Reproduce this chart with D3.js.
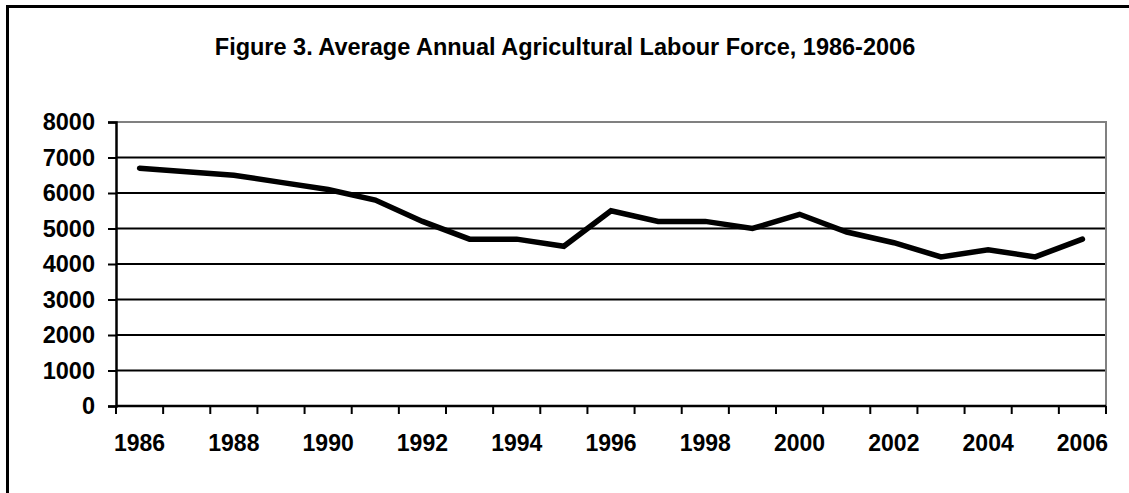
<!DOCTYPE html>
<html>
<head>
<meta charset="utf-8">
<script src="https://cdn.jsdelivr.net/npm/d3@7"></script>
<style>
  html, body { margin: 0; padding: 0; background: #fff; }
  svg { display: block; }
  text { font-family: "Liberation Sans", Arial, sans-serif; font-weight: bold; fill: #000; }
</style>
</head>
<body>
<svg id="chart" width="1129" height="493"></svg>
<script>
// Agricultural labour force by year
const years = ["1986","1987","1988","1989","1990","1991","1992","1993","1994","1995","1996",
               "1997","1998","1999","2000","2001","2002","2003","2004","2005","2006"];
const labourForce = [6700, 6600, 6500, 6300, 6100, 5800, 5200, 4700, 4700, 4500, 5500,
                     5200, 5200, 5000, 5400, 4900, 4600, 4200, 4400, 4200, 4700];
const yTicks = [0, 1000, 2000, 3000, 4000, 5000, 6000, 7000, 8000];
const xLabels = ["1986","1988","1990","1992","1994","1996","1998","2000","2002","2004","2006"];
const title = "Figure 3. Average Annual Agricultural Labour Force, 1986-2006";

const svg = d3.select("#chart");
const plot = { left: 116, right: 1106, top: 122, bottom: 406 };

const x = d3.scaleBand().domain(years).range([plot.left, plot.right]).padding(0);
const y = d3.scaleLinear().domain([0, 8000]).range([plot.bottom, plot.top]);

// outer frame (runs off the right and bottom edges)
svg.append("rect")
  .attr("x", 7.5).attr("y", 6.5)
  .attr("width", 1300).attr("height", 700)
  .attr("fill", "none").attr("stroke", "#000").attr("stroke-width", 3);

// title
svg.append("text")
  .attr("x", 565).attr("y", 55)
  .attr("text-anchor", "middle")
  .style("font-size", "23.5px")
  .text(title);

// horizontal gridlines
svg.append("g").selectAll("line")
  .data(yTicks.filter(d => d > 0 && d < 8000))
  .join("line")
  .attr("x1", plot.left).attr("x2", plot.right)
  .attr("y1", d => y(d)).attr("y2", d => y(d))
  .attr("stroke", "#000").attr("stroke-width", 2);

// plot area border (top and right)
svg.append("path")
  .attr("d", `M${plot.left},${y(8000)}H${plot.right}V${plot.bottom}`)
  .attr("fill", "none").attr("stroke", "#808080").attr("stroke-width", 2);

// y axis
const yAxis = svg.append("g").attr("transform", `translate(${plot.left},0)`)
  .call(d3.axisLeft(y).tickValues(yTicks).tickSize(8).tickPadding(13).tickFormat(d3.format("d")));
yAxis.select(".domain").attr("stroke", "#000").attr("stroke-width", 2.5);
yAxis.selectAll(".tick line").attr("stroke", "#000").attr("stroke-width", 2);
yAxis.selectAll(".tick text")
  .style("font-size", "23.5px")
  .style("font-family", "'Liberation Sans', Arial, sans-serif")
  .style("font-weight", "bold")
  .attr("fill", "#000");

// x axis: ticks sit between categories
const xEdges = years.map(d => x(d)).concat([plot.right]);
svg.append("line")
  .attr("x1", plot.left).attr("x2", plot.right)
  .attr("y1", plot.bottom).attr("y2", plot.bottom)
  .attr("stroke", "#000").attr("stroke-width", 2.5);
svg.append("g").selectAll("line")
  .data(xEdges)
  .join("line")
  .attr("x1", d => d).attr("x2", d => d)
  .attr("y1", plot.bottom).attr("y2", plot.bottom + 8)
  .attr("stroke", "#000").attr("stroke-width", 2);
svg.append("g").selectAll("text")
  .data(xLabels)
  .join("text")
  .attr("x", d => x(d) + x.bandwidth() / 2)
  .attr("y", 451)
  .attr("text-anchor", "middle")
  .style("font-size", "23px")
  .text(d => d);

// data line
const line = d3.line()
  .x((d, i) => x(years[i]) + x.bandwidth() / 2)
  .y(d => y(d));
svg.append("path")
  .datum(labourForce)
  .attr("d", line)
  .attr("fill", "none")
  .attr("stroke", "#000")
  .attr("stroke-width", 5.5)
  .attr("stroke-linecap", "round")
  .attr("stroke-linejoin", "miter");
</script>
</body>
</html>
